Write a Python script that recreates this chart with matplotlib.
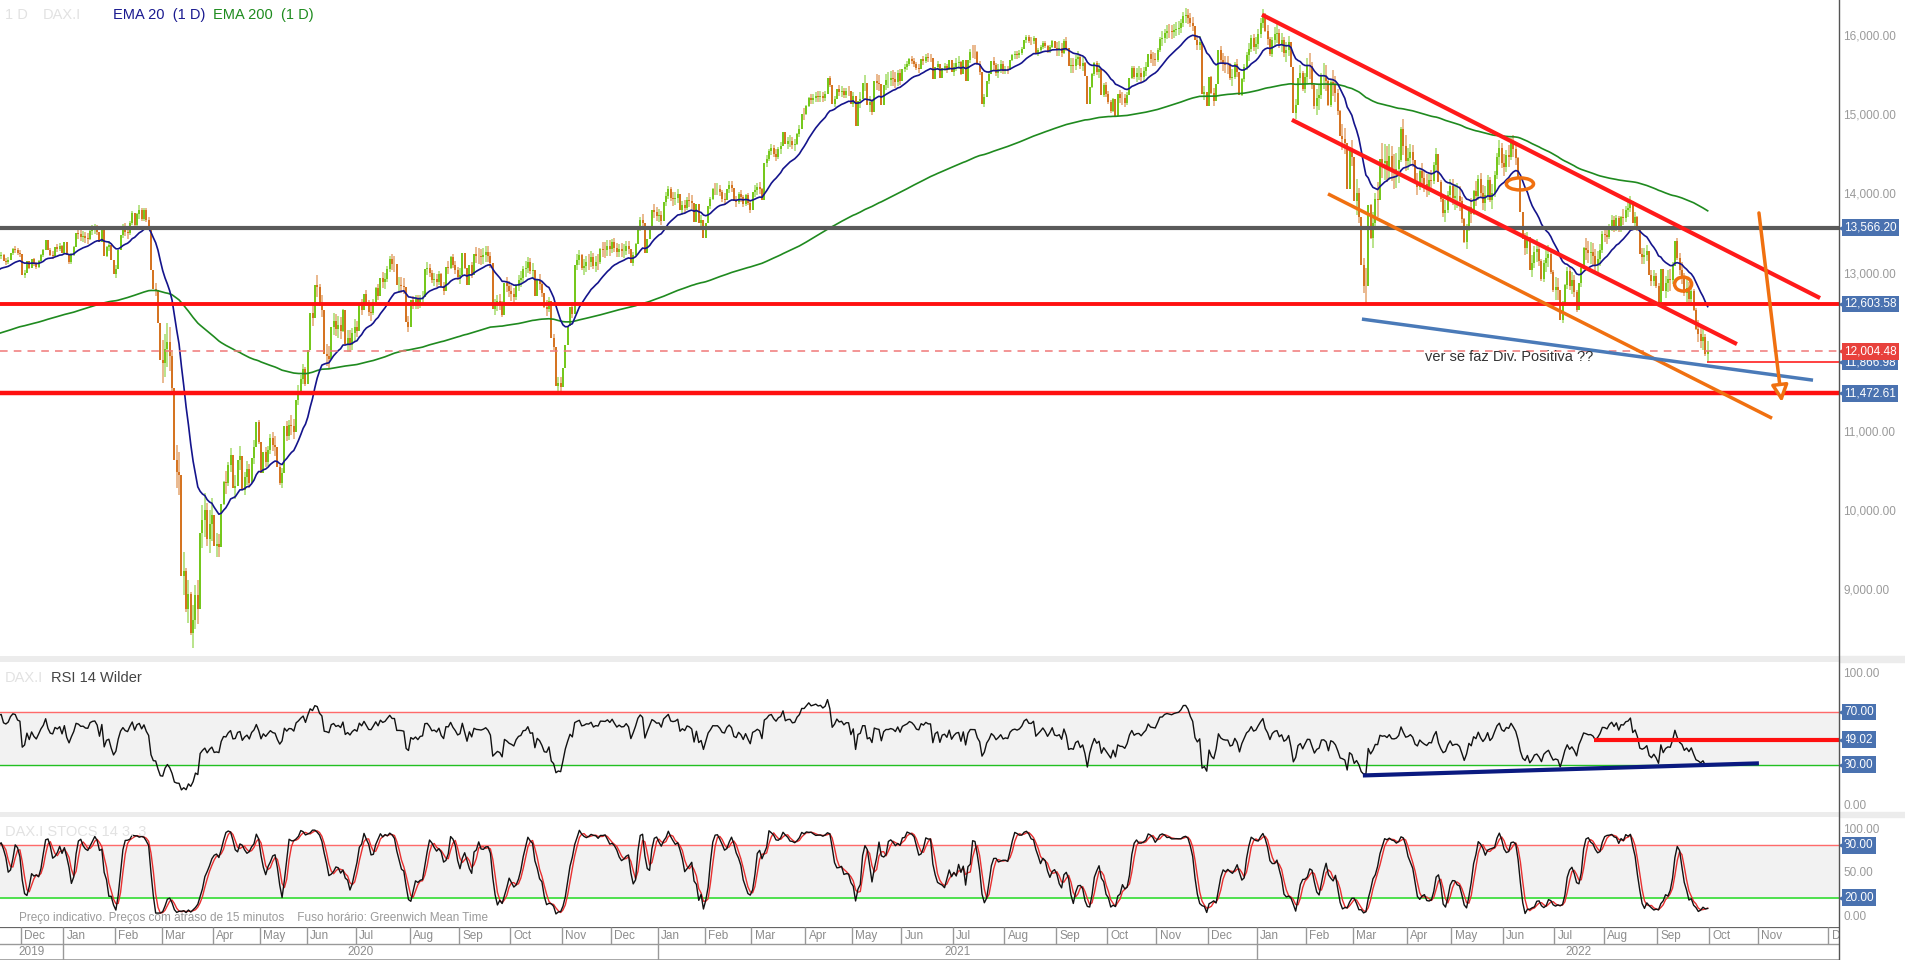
import numpy as np
import pandas as pd
import matplotlib
matplotlib.use("Agg")
import matplotlib.pyplot as plt
import matplotlib.transforms as mtransforms
from matplotlib.patches import Ellipse, Rectangle
from matplotlib.lines import Line2D

plt.rcParams["font.family"] = ["Liberation Sans", "DejaVu Sans"]

# ---- data: DAX daily closes, Oct 2019 .. Sep 2022 (one list per month) ----
month_names = ["Oct", "Nov", "Dec",
               "Jan", "Feb", "Mar", "Apr", "May", "Jun", "Jul", "Aug", "Sep", "Oct", "Nov", "Dec",
               "Jan", "Feb", "Mar", "Apr", "May", "Jun", "Jul", "Aug", "Sep", "Oct", "Nov", "Dec",
               "Jan", "Feb", "Mar", "Apr", "May", "Jun", "Jul", "Aug", "Sep", "Oct", "Nov", "Dec"]
month_years = [2019] * 3 + [2020] * 12 + [2021] * 12 + [2022] * 12
# length of the empty future months as the platform lays them out
future_days = [21, 30, 31]

closes_2019 = [
    [12263, 11925, 12013, 12012, 12097, 11970, 12094, 12164, 12412, 12486, 12629, 12631,
     12670, 12655, 12633, 12748, 12754, 12798, 12872, 12894, 12941, 12910, 12867],
    [12961, 13136, 13148, 13157, 13289, 13228, 13198, 13283, 13230, 13180, 13241, 13207,
     13221, 13148, 13137, 13163, 13246, 13292, 13287, 13245, 13236],
    [12965, 12989, 13140, 13055, 13167, 13106, 13071, 13141, 13222, 13282, 13407, 13288,
     13222, 13212, 13319, 13300, 13337, 13249],
]
closes_2020 = [
    [13386, 13219, 13127, 13227, 13321, 13495, 13483, 13452, 13456, 13432, 13429, 13526,
     13549, 13556, 13515, 13388, 13577, 13205, 13324, 13345, 13158, 12982],
    [13046, 13282, 13479, 13575, 13514, 13494, 13627, 13749, 13595, 13745, 13784, 13681,
     13789, 13665, 13579, 13035, 12790, 12774, 12367, 11890],
    [11857, 12039, 12127, 11944, 11542, 10625, 10475, 10439, 9161, 9232, 8742, 8939,
     8442, 8610, 8929, 8741, 9701, 9874, 10000, 9633, 9816, 9936],
    [9544, 9571, 9525, 10075, 10356, 10333, 10565, 10697, 10280, 10301, 10626, 10676,
     10250, 10416, 10514, 10336, 10660, 10796, 11107, 10862],
    [10467, 10730, 10607, 10760, 10904, 10824, 10799, 10542, 10337, 10465, 11058, 10939,
     11075, 11065, 10982, 11391, 11504, 11657, 11781, 11587],
    [12021, 12487, 12431, 12848, 12820, 12615, 12530, 11970, 11949, 11911, 12315, 12382,
     12281, 12331, 12262, 12523, 12093, 12177, 12089, 12232, 12311],
    [12260, 12608, 12528, 12734, 12617, 12495, 12489, 12633, 12800, 12697, 12931, 12874,
     12920, 13047, 13171, 13104, 13103, 12838, 12839, 12835, 12822, 12379, 12313],
    [12647, 12600, 12660, 12591, 12674, 12687, 13047, 13058, 12994, 12901, 12920, 12882,
     12977, 12830, 12765, 13066, 13062, 13191, 13096, 13033, 12945],
    [12974, 13243, 13057, 12842, 13100, 12968, 13237, 13209, 13203, 13194, 13218, 13256,
     13208, 13116, 12542, 12594, 12643, 12607, 12469, 12871, 12826, 12761],
    [12731, 12689, 12828, 12906, 12928, 13042, 13051, 13139, 13019, 13028, 12704, 12909,
     12854, 12736, 12558, 12543, 12646, 12178, 12064, 11561, 11598, 11556],
    [11789, 12089, 12325, 12568, 12480, 13096, 13163, 13217, 13052, 13077, 13139, 13133,
     13202, 13087, 13137, 13127, 13292, 13290, 13286, 13335, 13291],
    [13382, 13313, 13253, 13299, 13271, 13278, 13340, 13296, 13114, 13223, 13362, 13565,
     13667, 13631, 13246, 13418, 13587, 13790, 13761, 13719],
]
closes_2021 = [
    [13727, 13651, 13892, 13968, 14050, 13937, 13925, 13940, 13989, 13788, 13848, 13816,
     13922, 13907, 13874, 13643, 13871, 13621, 13666, 13433],
    [13622, 13835, 13933, 14060, 14057, 14060, 14012, 13933, 13921, 14050, 14109, 14065,
     13909, 13887, 13993, 13950, 13865, 13976, 13879, 13786],
    [14012, 14039, 14080, 14056, 13921, 14380, 14437, 14540, 14569, 14502, 14461, 14557,
     14596, 14776, 14621, 14657, 14662, 14610, 14621, 14749, 14818, 15009, 15008],
    [15107, 15212, 15177, 15203, 15234, 15215, 15234, 15209, 15255, 15460, 15368, 15129,
     15196, 15321, 15280, 15296, 15249, 15292, 15291, 15136],
    [15237, 14856, 15171, 15197, 15400, 15400, 15120, 15150, 15032, 15417, 15397, 15386,
     15114, 15370, 15438, 15438, 15465, 15450, 15407, 15520, 15421],
    [15568, 15603, 15633, 15693, 15677, 15640, 15581, 15571, 15693, 15674, 15729, 15711,
     15710, 15448, 15603, 15636, 15456, 15589, 15607, 15554, 15691, 15531],
    [15603, 15650, 15662, 15511, 15692, 15421, 15688, 15791, 15790, 15788, 15630, 15540,
     15134, 15216, 15422, 15515, 15669, 15618, 15519, 15571, 15640, 15544],
    [15568, 15555, 15692, 15745, 15761, 15745, 15770, 15826, 15937, 15977, 15925, 15922,
     15965, 15765, 15808, 15852, 15906, 15860, 15794, 15852, 15931, 15835],
    [15824, 15840, 15781, 15932, 15843, 15610, 15623, 15609, 15701, 15722, 15616, 15651,
     15490, 15132, 15349, 15506, 15644, 15532, 15574, 15249, 15365, 15261],
    [15157, 15037, 15195, 14973, 15251, 15206, 15200, 15147, 15250, 15463, 15587, 15474,
     15516, 15523, 15473, 15543, 15600, 15758, 15705, 15696, 15689],
    [15807, 15955, 15960, 16029, 16054, 16047, 16040, 16067, 16083, 16094, 16148, 16248,
     16251, 16221, 16160, 16116, 15937, 15879, 15918, 15257, 15280, 15100],
    [15473, 15263, 15170, 15380, 15813, 15687, 15639, 15623, 15622, 15453, 15476, 15637,
     15532, 15240, 15447, 15593, 15756, 15821, 15964, 15853, 15885],
]
closes_2022 = [
    [16021, 16152, 16271, 16052, 15948, 15768, 15942, 16010, 16031, 15883, 15934, 15773,
     15810, 15912, 15603, 15011, 15123, 15460, 15524, 15318, 15471],
    [15619, 15613, 15368, 15100, 15206, 15242, 15482, 15490, 15425, 15114, 15412, 15370,
     15267, 15043, 14731, 14693, 14631, 14052, 14567, 14461],
    [13905, 14000, 13698, 13094, 12835, 12831, 13848, 13442, 13628, 13929, 13917, 14441,
     14388, 14413, 14326, 14473, 14283, 14273, 14306, 14418, 14820, 14605, 14415],
    [14446, 14519, 14424, 14152, 14078, 14284, 14193, 14124, 14076, 14164, 14153, 14362,
     14502, 14142, 13924, 13756, 13793, 13979, 14098],
    [13940, 13970, 13971, 13903, 13675, 13381, 13534, 13829, 13740, 14027, 13964, 14186,
     14008, 13882, 13982, 14175, 13919, 14008, 14231, 14463, 14576, 14388],
    [14340, 14485, 14460, 14653, 14556, 14445, 14199, 13762, 13427, 13304, 13447, 13038,
     13126, 13265, 13292, 13145, 12913, 13118, 13186, 13232, 13003, 12784],
    [12813, 12773, 12401, 12595, 12843, 13016, 12832, 12906, 12756, 12520, 12864, 13060,
     13308, 13282, 13247, 13254, 13211, 13097, 13166, 13282, 13484],
    [13479, 13449, 13588, 13662, 13574, 13688, 13535, 13701, 13694, 13795, 13817, 13910,
     13627, 13697, 13544, 13231, 13195, 13221, 13271, 12972, 12893, 12962, 12835],
    [12631, 13050, 12761, 12872, 12916, 12904, 13088, 13403, 13189, 13028, 12957, 12741,
     12803, 12671, 12767, 12532, 12284, 12227, 12140, 12184, 11976, 12004.48],
]
# typical intraday range (points) per month
day_range = [120, 90, 100,
             130, 170, 550, 300, 250, 280, 200, 170, 200, 200, 200, 170,
             170, 150, 150, 130, 200, 110, 170, 100, 180, 170, 180, 220,
             250, 330, 450, 280, 320, 280, 280, 200, 280]
last_low = 11866.98
ema200_seed = 12000.0

# horizontal levels drawn on the chart
level_black = 13566.20
level_red_hi = 12603.58
level_red_lo = 11472.61
level_last = 12004.48
# hand-drawn trend lines: (bar index, price)
red_upper = [(573.6, 16259), (812.0, 12677)]
red_lower = [(586.4, 14930), (776.5, 12095)]
orange_lower = [(601.8, 13994), (791.5, 11158)]
blue_support = [(616.3, 12411), (809.0, 11639)]
orange_arrow = [(785.9, 13753), (795.7, 11361)]
circles = [(683.8, 14120, 11.6, 152), (753.5, 12854, 7.3, 177)]
note_pos = (643.2, 11930)
rsi_level = 49.02
rsi_level_start = 715.4
rsi_support = [(617.6, 21.9), (785.0, 31.0)]

# ---- derived series ----
months = closes_2019 + closes_2020 + closes_2021 + closes_2022
month_days = [len(m) for m in months] + future_days
close = np.array([v for m in months for v in m], dtype=float)
n = len(close)
x = np.arange(n)
opn = np.r_[close[0], close[:-1]]
rng = np.repeat(day_range, [len(m) for m in months])
extra = np.maximum(rng - np.abs(close - opn), 0) / 2
high = np.maximum(opn, close) + extra
low = np.minimum(opn, close) - extra
low[-1] = last_low

s = pd.Series(close)
ema20 = s.ewm(span=20, adjust=False).mean().values
ema200 = np.empty(n)
e = ema200_seed
for i, c in enumerate(close):
    e = e + 2 / 201 * (c - e)
    ema200[i] = e

delta = np.diff(close, prepend=close[0])
gain = pd.Series(np.clip(delta, 0, None)).ewm(alpha=1 / 14, adjust=False).mean()
loss = pd.Series(np.clip(-delta, 0, None)).ewm(alpha=1 / 14, adjust=False).mean()
rsi = (100 - 100 / (1 + gain / loss.replace(0, np.nan))).fillna(50).values

hh = pd.Series(high).rolling(14, min_periods=1).max()
ll = pd.Series(low).rolling(14, min_periods=1).min()
k_raw = 100 * (s - ll) / (hh - ll)
stoch_k = k_raw.rolling(3, min_periods=1).mean().values
stoch_d = pd.Series(stoch_k).rolling(3, min_periods=1).mean().values

# ---- figure ----
W, H = 1905, 960
fig = plt.figure(figsize=(W / 100, H / 100), dpi=100)
PR = 1839 / W
XLIM = (34.5, 820.1)


def panel(top, bot):
    a = fig.add_axes([0, 1 - bot / H, PR, (bot - top) / H])
    a.set_xlim(*XLIM)
    for sp in a.spines.values():
        sp.set_visible(False)
    a.set_xticks([])
    a.yaxis.tick_right()
    a.tick_params(axis="y", length=0, pad=3, labelsize=8.5, labelcolor="#9a9a9a")
    return a


ax = panel(0, 656)
ax_rsi = panel(662, 812)
ax_st = panel(817, 927)
ax_t = fig.add_axes([0, 0, PR, 33 / H])

for top, bot in [(656, 662), (812, 817)]:
    fig.add_artist(Rectangle((0, 1 - bot / H), 1, (bot - top) / H,
                             transform=fig.transFigure, color="#ececec", zorder=0))
fig.add_artist(Line2D([PR, PR], [0, 1], transform=fig.transFigure, color="#555555", lw=1))


def tag(a, val, color):
    tr = mtransforms.blended_transform_factory(a.transAxes, a.transData)
    a.text(1.0, val, f"{val:,.2f}", transform=mtransforms.offset_copy(tr, fig=fig, x=5, units="dots"),
           ha="left", va="center", color="white", fontsize=8.5, clip_on=False, zorder=20,
           bbox=dict(boxstyle="square,pad=0.2", fc=color, ec="none"))
    a.plot([1.0], [val], marker="<", ms=4, color=color, clip_on=False, zorder=20,
           transform=mtransforms.offset_copy(tr, fig=fig, x=3, units="dots"))


def right_ticks(a, values):
    a.set_yticks(values)
    a.set_yticklabels([f"{v:,.2f}" for v in values])


# price panel
UP, DOWN = "#74c81a", "#d5731f"
ax.set_ylim(8152, 16445)
up = close >= opn
for m, col in [(up, UP), (~up, DOWN)]:
    ax.vlines(x[m], low[m], high[m], color=col, lw=1.4, alpha=0.5)
    ax.vlines(x[m], opn[m], close[m], color=col, lw=1.4)
ax.plot(x, ema200, color="#1f8a1f", lw=1.2)
ax.plot(x, ema20, color="#14148c", lw=1.2)

ax.axhline(level_black, color="#5a5a5a", lw=3)
ax.axhline(level_red_hi, color="#ff1010", lw=2.8)
ax.axhline(level_red_lo, color="#ff1010", lw=3.2)
ax.axhline(level_last, color="#f07878", lw=1.1, ls=(0, (5, 4)))
ax.hlines(last_low, n - 1.5, XLIM[1], color="#ff2020", lw=1.2)

for line, col, lw in [(red_upper, "#ff1a1a", 3), (red_lower, "#ff1a1a", 3),
                      (orange_lower, "#f07010", 2.5), (blue_support, "#4a7ab8", 2.5)]:
    ax.plot([p[0] for p in line], [p[1] for p in line], color=col, lw=lw, solid_capstyle="butt")
ax.annotate("", xy=orange_arrow[1], xytext=orange_arrow[0],
            arrowprops=dict(arrowstyle="-|>,head_length=1.0,head_width=0.5",
                            ec="#f07010", fc="white", lw=2.5, shrinkA=0, shrinkB=0))
for cx, cy, w, h in circles:
    ax.add_patch(Ellipse((cx, cy), w, h, fill=False, ec="#f07010", lw=2.5, zorder=6))
ax.text(note_pos[0], note_pos[1], "ver se faz Div. Positiva ??", fontsize=10.5,
        color="#333333", va="center", ha="left")

# the 12,000 label sits under the red last-price tag, so it is left out
right_ticks(ax, [9000, 10000, 11000, 13000, 14000, 15000, 16000])
tag(ax, level_black, "#4a72b0")
tag(ax, level_red_hi, "#4a72b0")
tag(ax, last_low, "#4a72b0")
tag(ax, level_red_lo, "#4a72b0")
tag(ax, level_last, "#e8413c")

# RSI panel
ax_rsi.set_ylim(-5.9, 108)
ax_rsi.axhspan(30, 70, color="#f2f2f2", zorder=0)
ax_rsi.axhline(70, color="#ff6a6a", lw=1)
ax_rsi.axhline(30, color="#22c022", lw=1)
ax_rsi.plot(x, rsi, color="#111111", lw=1)
ax_rsi.hlines(rsi_level, rsi_level_start, XLIM[1], color="#ff1010", lw=3)
ax_rsi.plot([p[0] for p in rsi_support], [p[1] for p in rsi_support], color="#0a1a80", lw=3)
right_ticks(ax_rsi, [0, 100])
for v in (70, rsi_level, 30):
    tag(ax_rsi, v, "#4a72b0")

# stochastic panel
ax_st.set_ylim(-13.8, 112.7)
ax_st.axhspan(20, 80, color="#f2f2f2", zorder=0)
ax_st.axhline(80, color="#ff6a6a", lw=1)
ax_st.axhline(20, color="#33dd33", lw=1.2)
ax_st.plot(x, stoch_d, color="#e83030", lw=1)
ax_st.plot(x, stoch_k, color="#111111", lw=1)
right_ticks(ax_st, [0, 50, 100])
for v in (80, 20):
    tag(ax_st, v, "#4a72b0")

# time axis
ax_t.set_xlim(*XLIM)
ax_t.set_ylim(0, 2)
ax_t.axis("off")
ax_t.axhline(2, color="#666666", lw=1.6)
ax_t.axhline(1, color="#999999", lw=1)
ax_t.axhline(0.02, color="#999999", lw=1.2)
starts = np.cumsum([0] + month_days[:-1]) - 0.5
for st, name in zip(starts, month_names):
    if st < XLIM[0] or st > XLIM[1]:
        continue
    ax_t.vlines(st, 1, 2, color="#999999", lw=1)
    ax_t.text(st + 1.4, 1.48, name, fontsize=8.5, color="#8c8c8c", va="center", ha="left", clip_on=True)
year_start = {}
for st, yr in zip(starts, month_years):
    year_start.setdefault(yr, st)
ends = list(year_start.values())[1:] + [starts[-1] + month_days[-1]]
for (yr, st), en in zip(year_start.items(), ends):
    if st > XLIM[0]:
        ax_t.vlines(st, 0, 1, color="#999999", lw=1)
    ax_t.text((max(st, XLIM[0]) + en) / 2, 0.5, str(yr), fontsize=8.5, color="#8c8c8c",
              va="center", ha="center")


# header texts
def ftext(px, py, s, **kw):
    fig.text(px / W, 1 - py / H, s, va="center", ha="left", **kw)


ftext(5, 15, "1 D", fontsize=10.5, color="#e2e2e2")
ftext(43, 15, "DAX.I", fontsize=10.5, color="#e2e2e2")
ftext(113, 15, "EMA 20  (1 D)", fontsize=10.5, color="#1a1a90")
ftext(213, 15, "EMA 200  (1 D)", fontsize=10.5, color="#1e8c1e")
ftext(5, 678, "DAX.I", fontsize=10.5, color="#e2e2e2")
ftext(51, 678, "RSI 14 Wilder", fontsize=10.5, color="#444444")
ftext(5, 832, "DAX.I STOCS 14 3, 3", fontsize=10.5, color="#e2e2e2")
ftext(19, 918, "Preço indicativo. Preços com atraso de 15 minutos    Fuso horário: Greenwich Mean Time",
      fontsize=8.5, color="#9a9a9a")

fig.savefig("out.png", dpi=100, facecolor="white")
